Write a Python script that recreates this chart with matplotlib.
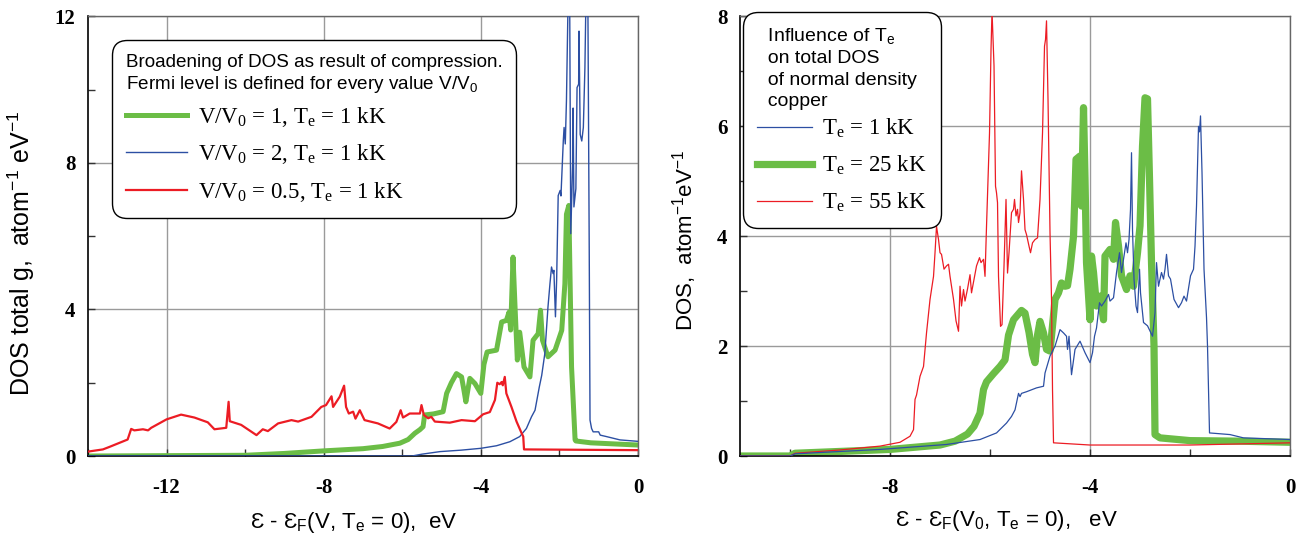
import matplotlib
matplotlib.use("Agg")
import matplotlib.pyplot as plt
from matplotlib.font_manager import FontProperties
from matplotlib.ticker import MultipleLocator

plt.rcParams['font.family'] = ['Liberation Sans', 'DejaVu Sans']
plt.rcParams['mathtext.default'] = 'regular'
plt.rcParams['axes.unicode_minus'] = False

# === DATA: left panel, T_e = 1 kK, different compression ===
e_v1 = [-14.0, -10.0, -9.0, -8.0, -7.0, -6.5, -6.06, -5.85, -5.68, -5.55,
        -5.47, -5.43, -5.2, -4.96, -4.87, -4.75, -4.62, -4.49, -4.43, -4.38,
        -4.28, -4.15, -4.0, -3.92, -3.84, -3.6, -3.47, -3.35, -3.28, -3.24,
        -3.18, -3.13, -3.07, -3.01, -2.9, -2.75, -2.67, -2.54, -2.48, -2.43,
        -2.29, -2.11, -1.94, -1.86, -1.82, -1.76, -1.69, -1.6, -1.58, -1.2,
        -0.6, 0.0]
g_v1 = [0.0, 0.02, 0.07, 0.14, 0.2, 0.26, 0.35, 0.45, 0.62, 0.72,
        0.8, 1.12, 1.15, 1.21, 1.71, 2.0, 2.25, 2.16, 1.8, 1.48,
        2.12, 1.98, 1.71, 2.5, 2.84, 2.89, 3.66, 3.7, 3.93, 3.44,
        5.43, 4.1, 2.62, 3.38, 2.43, 2.16, 3.16, 3.34, 3.98, 3.16,
        2.71, 2.89, 3.43, 4.7, 6.6, 6.84, 2.43, 0.44, 0.41, 0.36,
        0.33, 0.3]

e_v2 = [-14.0, -5.75, -5.5, -5.04, -4.5, -4.0, -3.6, -3.26, -3.01, -2.84,
        -2.71, -2.62, -2.51, -2.45, -2.37, -2.29, -2.24, -2.2, -2.16, -2.14,
        -2.1, -2.07, -2.03, -1.98, -1.96, -1.9, -1.88, -1.85, -1.82, -1.77,
        -1.74, -1.71, -1.66, -1.65, -1.63, -1.58, -1.55, -1.51, -1.5, -1.47,
        -1.43, -1.39, -1.35, -1.31, -1.28, -1.24, -1.22, -1.18, -1.14, -1.0,
        -0.96, -0.8, -0.46, 0.0]
g_v2 = [0.0, 0.0, 0.05, 0.12, 0.16, 0.21, 0.28, 0.39, 0.53, 0.75,
        1.07, 1.25, 1.89, 2.2, 2.8, 4.07, 4.7, 5.16, 4.98, 5.07,
        3.8, 4.8, 7.11, 7.25, 7.1, 8.61, 8.97, 8.52, 9.7, 13.0,
        13.0, 6.07, 8.07, 9.5, 6.8, 7.3, 10.06, 10.15, 11.6, 8.78,
        8.6, 8.97, 10.6, 13.5, 13.5, 5.6, 0.98, 0.75, 0.66, 0.66,
        0.57, 0.53, 0.44, 0.4]

e_v05 = [-14.0, -13.62, -13.45, -12.99, -12.9, -12.82, -12.6, -12.47, -12.39, -12.0,
         -11.63, -11.29, -10.95, -10.78, -10.48, -10.42, -10.39, -10.1, -9.71, -9.55,
         -9.42, -9.16, -8.82, -8.65, -8.31, -8.06, -7.94, -7.8, -7.76, -7.59,
         -7.48, -7.43, -7.36, -7.25, -7.19, -7.08, -6.96, -6.62, -6.32, -6.15,
         -6.04, -5.98, -5.81, -5.55, -5.51, -5.45, -5.34, -5.26, -5.17, -4.79,
         -4.49, -4.15, -3.94, -3.77, -3.64, -3.58, -3.52, -3.47, -3.44, -3.39,
         -3.35, -3.22, -3.09, -2.96, -2.92, -2.9, -1.5, 0.0]
g_v05 = [0.12, 0.18, 0.25, 0.45, 0.74, 0.7, 0.73, 0.7, 0.77, 1.0,
         1.13, 1.05, 0.92, 0.73, 0.77, 1.48, 0.95, 0.85, 0.57, 0.73,
         0.68, 0.89, 0.98, 0.94, 1.07, 1.34, 1.39, 1.63, 1.34, 1.62,
         1.92, 1.34, 1.16, 1.21, 1.02, 1.25, 0.98, 0.89, 0.75, 0.93,
         1.25, 1.05, 1.16, 1.16, 1.39, 1.12, 1.03, 1.07, 0.94, 0.91,
         0.98, 0.95, 1.14, 1.2, 1.53, 2.0, 1.96, 2.02, 1.93, 2.16,
         1.71, 1.34, 0.94, 0.62, 0.53, 0.18, 0.17, 0.16]

# === DATA: right panel, normal density, different T_e ===
e_1kK = [-11.0, -10.0, -9.9, -8.2, -6.87, -6.2, -5.87, -5.67, -5.57, -5.5,
         -5.43, -5.4, -5.37, -5.27, -5.07, -4.93, -4.9, -4.8, -4.7, -4.6,
         -4.53, -4.47, -4.45, -4.42, -4.37, -4.3, -4.2, -4.1, -4.0, -3.95,
         -3.91, -3.87, -3.81, -3.77, -3.7, -3.63, -3.6, -3.53, -3.47, -3.41,
         -3.37, -3.33, -3.28, -3.25, -3.22, -3.19, -3.17, -3.15, -3.12, -3.08,
         -3.05, -3.01, -2.99, -2.93, -2.85, -2.75, -2.7, -2.67, -2.63, -2.6,
         -2.57, -2.53, -2.5, -2.47, -2.43, -2.39, -2.32, -2.23, -2.17, -2.12,
         -2.07, -1.99, -1.93, -1.9, -1.87, -1.83, -1.81, -1.79, -1.76, -1.72,
         -1.67, -1.65, -1.61, -1.47, -1.2, -0.93, 0.0]
g_1kK = [0.0, 0.0, 0.04, 0.12, 0.21, 0.3, 0.42, 0.6, 0.72, 0.84,
         1.14, 1.08, 1.14, 1.17, 1.24, 1.27, 1.51, 1.82, 2.0, 2.3,
         2.24, 2.18, 1.94, 2.18, 1.48, 1.94, 2.09, 1.88, 1.7, 1.88,
         2.18, 2.33, 2.79, 2.73, 2.82, 2.94, 2.82, 2.88, 3.34, 3.7,
         3.34, 3.58, 3.88, 3.7, 3.94, 4.49, 5.52, 4.12, 3.22, 2.73,
         2.61, 3.4, 2.97, 2.43, 2.37, 2.18, 2.61, 3.52, 3.09, 3.22,
         3.34, 3.22, 3.4, 3.67, 3.28, 3.22, 2.85, 2.7, 2.79, 2.91,
         2.82, 3.28, 3.4, 3.82, 4.55, 6.0, 5.9, 6.19, 5.16, 3.4,
         2.52, 2.0, 0.42, 0.41, 0.39, 0.33, 0.3]

e_25kK = [-11.0, -10.0, -9.9, -8.0, -7.0, -6.7, -6.45, -6.32, -6.2, -6.13,
          -6.07, -5.93, -5.8, -5.7, -5.63, -5.53, -5.37, -5.3, -5.22, -5.15,
          -5.1, -5.05, -5.0, -4.93, -4.87, -4.8, -4.75, -4.7, -4.63, -4.57,
          -4.5, -4.45, -4.4, -4.33, -4.28, -4.2, -4.17, -4.13, -4.1, -4.07,
          -4.0, -3.97, -3.93, -3.87, -3.8, -3.73, -3.7, -3.6, -3.53, -3.49,
          -3.43, -3.37, -3.27, -3.2, -3.13, -3.05, -3.0, -2.95, -2.9, -2.85,
          -2.81, -2.77, -2.72, -2.7, -2.6, -2.0, -1.0, 0.0]
g_25kK = [0.0, 0.0, 0.05, 0.12, 0.2, 0.27, 0.4, 0.54, 0.78, 1.21,
          1.35, 1.5, 1.63, 1.75, 2.2, 2.48, 2.65, 2.6, 2.25, 1.85,
          1.7, 2.2, 2.45, 2.24, 1.94, 1.91, 2.37, 2.85, 2.97, 3.15,
          3.09, 3.1, 3.4, 4.0, 5.4, 5.46, 4.55, 6.34, 5.04, 3.52,
          2.48, 3.64, 3.34, 2.73, 2.91, 2.48, 3.64, 3.76, 3.58, 4.25,
          3.82, 3.28, 3.03, 3.28, 3.09, 3.7, 4.19, 5.64, 6.52, 6.5,
          5.04, 3.52, 2.0, 0.39, 0.33, 0.28, 0.27, 0.25]

e_55kK = [-11.0, -10.0, -9.9, -9.0, -8.2, -7.8, -7.6, -7.53, -7.5, -7.47,
          -7.4, -7.33, -7.27, -7.2, -7.13, -7.1, -7.07, -7.03, -7.0, -6.97,
          -6.92, -6.87, -6.83, -6.8, -6.73, -6.68, -6.63, -6.6, -6.57, -6.53,
          -6.5, -6.45, -6.4, -6.37, -6.27, -6.21, -6.18, -6.13, -6.1, -6.07,
          -6.01, -5.98, -5.96, -5.92, -5.89, -5.87, -5.85, -5.83, -5.79, -5.76,
          -5.72, -5.68, -5.65, -5.62, -5.57, -5.53, -5.51, -5.48, -5.45, -5.43,
          -5.4, -5.37, -5.33, -5.3, -5.27, -5.22, -5.19, -5.15, -5.1, -5.05,
          -5.0, -4.95, -4.91, -4.89, -4.87, -4.84, -4.8, -4.77, -4.75, -4.73,
          -4.0, -2.0, 0.0]
g_55kK = [0.0, 0.0, 0.05, 0.11, 0.18, 0.25, 0.36, 0.48, 1.03, 1.11,
          1.45, 1.63, 2.24, 2.85, 3.27, 3.7, 4.18, 3.94, 3.7, 3.67,
          3.4, 3.46, 3.49, 3.27, 2.85, 2.46, 2.27, 3.09, 2.73, 3.03,
          2.82, 3.04, 3.3, 2.97, 3.46, 3.61, 3.52, 3.58, 3.27, 4.18,
          5.88, 7.4, 8.1, 7.1, 4.91, 4.79, 4.61, 3.27, 2.36, 2.39,
          3.46, 4.67, 3.33, 3.7, 4.43, 4.49, 4.67, 4.37, 4.49, 4.25,
          4.43, 5.19, 4.67, 4.12, 4.03, 3.82, 3.7, 3.88, 3.94, 3.97,
          4.67, 5.88, 7.46, 7.58, 7.92, 6.49, 4.06, 2.85, 1.2, 0.24,
          0.2, 0.2, 0.24]

GREEN = '#6bbd46'
BLUE = '#2c4fa3'
RED = '#ec1c24'
GRID = '#9a9a9a'

tick_font = FontProperties(family='Liberation Serif', weight='bold', size=15)
entry_font = FontProperties(family='Liberation Serif', size=16.5)


def style_axes(ax, xlim, ylim, ymaj):
    ax.set_xlim(*xlim)
    ax.set_ylim(*ylim)
    ax.xaxis.set_major_locator(MultipleLocator(4))
    ax.xaxis.set_minor_locator(MultipleLocator(2))
    ax.yaxis.set_major_locator(MultipleLocator(ymaj))
    ax.yaxis.set_minor_locator(MultipleLocator(ymaj / 2))
    ax.grid(True, which='major', color=GRID, lw=1.0, zorder=0)
    ax.set_axisbelow(True)
    ax.tick_params(which='both', direction='in', length=5, width=1, color='#333333')
    ax.tick_params(axis='x', pad=16)
    ax.tick_params(axis='y', pad=9)
    for sp in ['left', 'bottom']:
        ax.spines[sp].set_color('black')
        ax.spines[sp].set_linewidth(1.2)
    for sp in ['top', 'right']:
        ax.spines[sp].set_color('#666666')
        ax.spines[sp].set_linewidth(1.0)
    for lab in ax.get_xticklabels() + ax.get_yticklabels():
        lab.set_fontproperties(tick_font)


fig = plt.figure(figsize=(13.07, 5.38), dpi=100)
ax1 = fig.add_axes([0.0673, 0.1524, 0.4208, 0.817])
ax2 = fig.add_axes([0.5662, 0.1524, 0.4208, 0.817])

# --- left panel ---
ax1.plot(e_v1, g_v1, color=GREEN, lw=3.6, solid_joinstyle='round', zorder=2,
         label="V/V$_0$ = 1, T$_e$ = 1 kK")
ax1.plot(e_v2, g_v2, color=BLUE, lw=1.0, zorder=3,
         label="V/V$_0$ = 2, T$_e$ = 1 kK")
ax1.plot(e_v05, g_v05, color=RED, lw=1.6, zorder=3,
         label="V/V$_0$ = 0.5, T$_e$ = 1 kK")
style_axes(ax1, (-14, 0), (0, 12), 4)
ax1.set_ylabel("DOS total g,  atom$^{-1}$ eV$^{-1}$", fontsize=18)
ax1.yaxis.set_label_coords(-0.093, 0.461)
ax1.set_xlabel("Ɛ - Ɛ$_F$(V, T$_e$ = 0),  eV", fontsize=16)
ax1.xaxis.set_label_coords(0.484, -0.122)

leg1 = ax1.legend(loc='upper left', bbox_to_anchor=(0.044, 0.946), borderaxespad=0,
                  title="Broadening of DOS as result of compression.\n"
                        "Fermi level is defined for every value V/V$_0$",
                  title_fontproperties=FontProperties(family='Liberation Sans', size=13.6),
                  prop=entry_font, alignment='left', fancybox=True,
                  edgecolor='black', framealpha=1, handlelength=2.65,
                  handletextpad=0.5, labelspacing=0.6, borderpad=0.6)
leg1._legend_box.sep = 7   # gap between title and entries (points)
leg1.get_frame().set_linewidth(1.0)
leg1.get_frame().set_boxstyle('round', pad=0, rounding_size=0.65)

# --- right panel ---
ax2.plot(e_25kK, g_25kK, color=GREEN, lw=5.2, solid_joinstyle='round', zorder=2,
         label="T$_e$ = 25 kK")
ax2.plot(e_55kK, g_55kK, color=RED, lw=0.9, zorder=3, label="T$_e$ = 55 kK")
ax2.plot(e_1kK, g_1kK, color=BLUE, lw=0.9, zorder=3, label="T$_e$ = 1 kK")
style_axes(ax2, (-11, 0), (0, 8), 2)
ax2.set_ylabel("DOS,  atom$^{-1}$eV$^{-1}$", fontsize=16)
ax2.yaxis.set_label_coords(-0.075, 0.49)
ax2.set_xlabel("Ɛ - Ɛ$_F$(V$_0$, T$_e$ = 0),   eV", fontsize=16)
ax2.xaxis.set_label_coords(0.485, -0.118)

h, l = ax2.get_legend_handles_labels()
order = [2, 0, 1]
leg2 = ax2.legend([h[i] for i in order], [l[i] for i in order],
                  loc='upper left', bbox_to_anchor=(0.005, 1.011), borderaxespad=0,
                  title="  Influence of T$_e$\n  on total DOS\n  of normal density\n  copper",
                  title_fontproperties=FontProperties(family='Liberation Sans', size=14),
                  prop=entry_font, alignment='left', fancybox=True,
                  edgecolor='black', framealpha=1, handlelength=2.4,
                  handletextpad=0.45, labelspacing=0.6, borderpad=0.62)
leg2.get_title().set_linespacing(1.35)
leg2._legend_box.sep = 4.5
leg2.get_frame().set_linewidth(1.0)
leg2.get_frame().set_boxstyle('round', pad=0, rounding_size=0.65)

fig.savefig("out.png", dpi=100)
